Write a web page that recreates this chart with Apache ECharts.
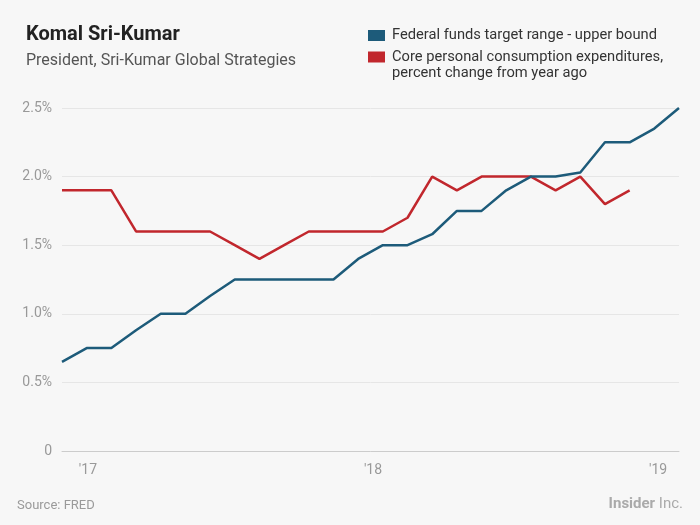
<!DOCTYPE html>
<html>
<head>
<meta charset="utf-8">
<script src="https://cdn.jsdelivr.net/npm/echarts@6/dist/echarts.min.js"></script>
<style>
html,body{margin:0;padding:0;background:#f7f7f7;}
#chart{width:700px;height:525px;}
</style>
</head>
<body>
<div id="chart"></div>
<script>
var months = ['Dec 2016','Jan 2017','Feb 2017','Mar 2017','Apr 2017','May 2017','Jun 2017','Jul 2017','Aug 2017','Sep 2017','Oct 2017','Nov 2017','Dec 2017','Jan 2018','Feb 2018','Mar 2018','Apr 2018','May 2018','Jun 2018','Jul 2018','Aug 2018','Sep 2018','Oct 2018','Nov 2018','Dec 2018','Jan 2019'];
var fedFunds = [0.65,0.75,0.75,0.88,1.0,1.0,1.13,1.25,1.25,1.25,1.25,1.25,1.40,1.5,1.5,1.58,1.75,1.75,1.9,2.0,2.0,2.03,2.25,2.25,2.35,2.5];
var corePCE = [1.9,1.9,1.9,1.6,1.6,1.6,1.6,1.5,1.4,1.5,1.6,1.6,1.6,1.6,1.7,2.0,1.9,2.0,2.0,2.0,1.9,2.0,1.8,1.9,null,null];
var yTicks = [0,0.5,1.0,1.5,2.0,2.5];
var yTickLabels = ['0','0.5%','1.0%','1.5%','2.0%','2.5%'];
var xTickLabels = ["'17","'18","'19"];
var seriesNames = ['Federal funds target range - upper bound','Core personal consumption expenditures,'];
var seriesName2Cont = 'percent change from year ago';

// positions of year labels along the month index scale
var xTickPos = [1.05, 12.6, 24.15];

var chart = echarts.init(document.getElementById('chart'));
var font = 'Roboto, "Open Sans", sans-serif';
chart.setOption({
  backgroundColor: '#f7f7f7',
  animation: false,
  title: [
    {text: 'Komal Sri-Kumar', left: 21, top: 20, textStyle: {fontFamily: font, fontSize: 20, fontWeight: 'bold', color: '#222'}},
    {text: 'President, Sri-Kumar Global Strategies', left: 21, top: 48, textStyle: {fontFamily: font, fontSize: 16, fontWeight: 'normal', color: '#555'}}
  ],
  legend: {
    orient: 'vertical', left: 368, top: 26.5, itemWidth: 17, itemHeight: 11, itemGap: 3.5,
    padding: 0,
    icon: 'rect',
    data: seriesNames,
    textStyle: {fontFamily: font, fontSize: 14.7, color: '#333', lineHeight: 18, padding: [0, 0, 0, 2]},
    selectedMode: false
  },
  graphic: [
    {type: 'text', left: 392, top: 66, style: {text: seriesName2Cont, font: '14.7px ' + font, fill: '#333'}},
    {type: 'text', left: 17, top: 499, style: {text: 'Source: FRED', font: '13px ' + font, fill: '#9a9a9a'}},
    {type: 'text', right: 17, top: 497, style: {
      text: '{b|Insider}{n| Inc.}',
      rich: {b: {fontFamily: font, fontSize: 15, fontWeight: 'bold', fill: '#aaa'}, n: {fontFamily: font, fontSize: 15, fill: '#aaa'}}
    }}
  ],
  grid: {left: 62, right: 21, top: 108, bottom: 74},
  xAxis: [
    {type: 'category', data: months, boundaryGap: false,
     axisLine: {show: true, lineStyle: {color: '#cccccc', width: 1}},
     axisTick: {show: false}, axisLabel: {show: false}, splitLine: {show: false}},
    {type: 'value', min: 0, max: months.length - 1, position: 'bottom',
     axisLine: {show: false}, axisTick: {show: false}, splitLine: {show: false},
     axisLabel: {show: true, customValues: xTickPos, margin: 12,
       formatter: function (v) { var i = xTickPos.indexOf(v); return i >= 0 ? xTickLabels[i] : ''; },
       fontFamily: font, fontSize: 14, color: '#999'}}
  ],
  yAxis: {
    type: 'value', min: 0, max: 2.5, interval: 0.5,
    axisLine: {show: false}, axisTick: {show: false},
    splitLine: {lineStyle: {color: '#e6e6e6', width: 1}},
    axisLabel: {margin: 10, fontFamily: font, fontSize: 14, color: '#999',
      formatter: function (v) { var i = yTicks.indexOf(Math.round(v * 10) / 10); return i >= 0 ? yTickLabels[i] : ''; }}
  },
  series: [
    {name: seriesNames[0], type: 'line', data: fedFunds, xAxisIndex: 0, showSymbol: false, symbol: 'none',
     color: '#1d5b7a', lineStyle: {width: 2.5, color: '#1d5b7a'}, z: 3},
    {name: seriesNames[1], type: 'line', data: corePCE, xAxisIndex: 0, showSymbol: false, symbol: 'none',
     color: '#c1272d', lineStyle: {width: 2.5, color: '#c1272d'}, z: 2}
  ]
});
</script>
</body>
</html>
